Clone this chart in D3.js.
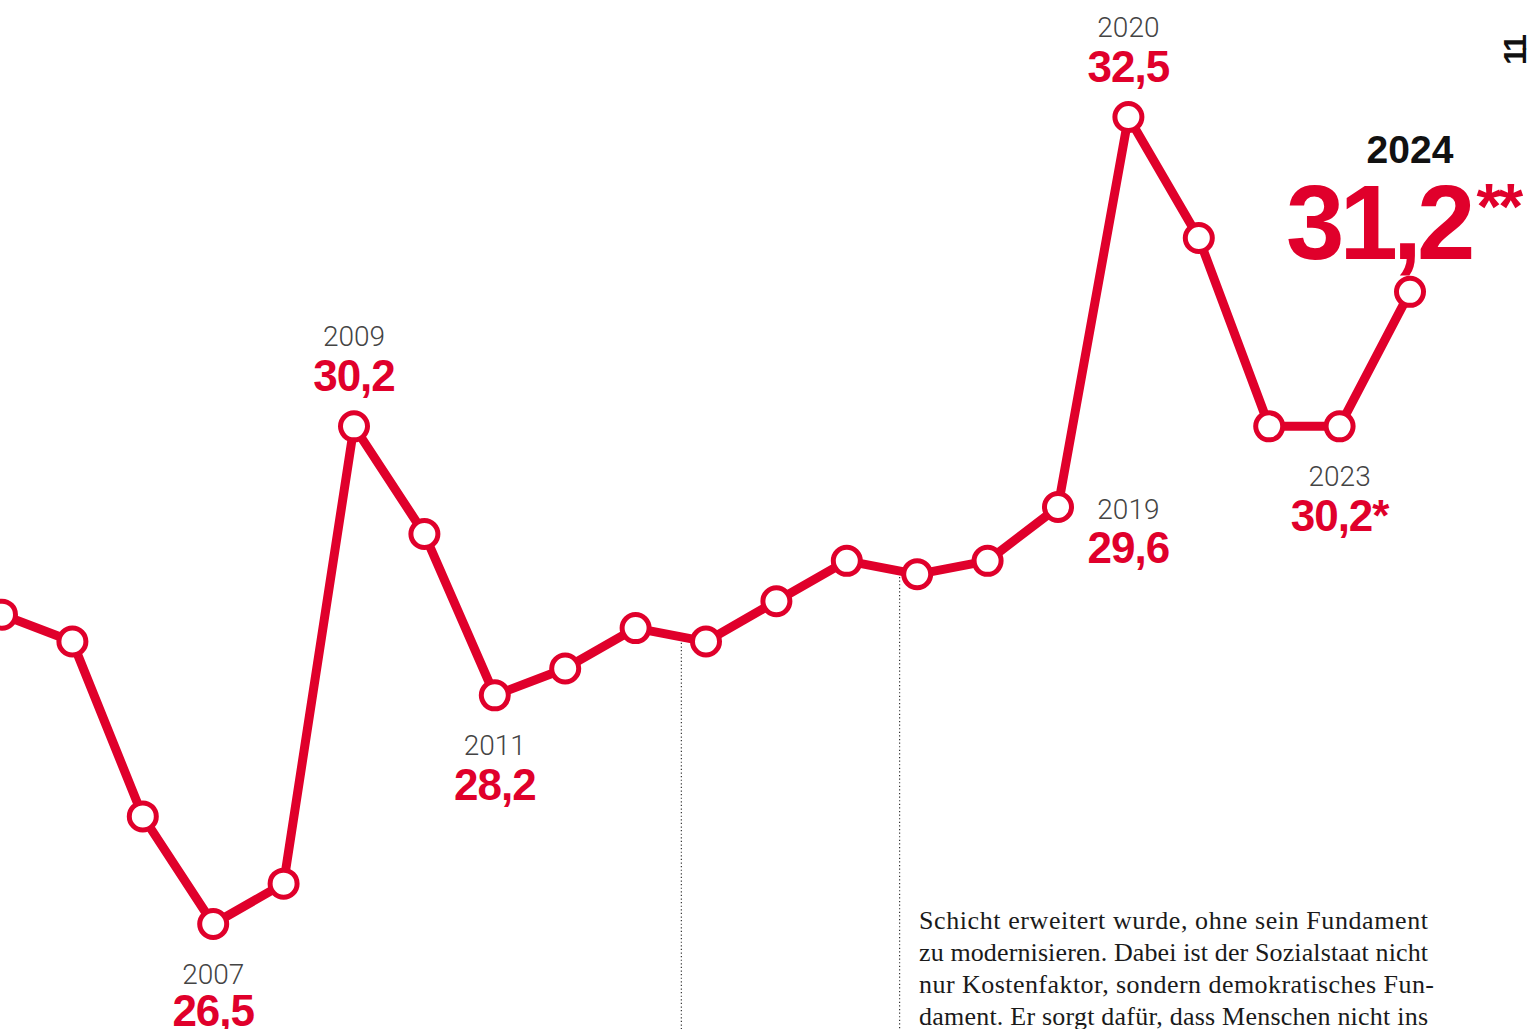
<!DOCTYPE html>
<html><head><meta charset="utf-8">
<script src="https://cdn.jsdelivr.net/npm/d3@7"></script>
<style>
html,body{margin:0;padding:0;background:#fff;overflow:hidden}
svg{display:block}
</style></head>
<body>
<svg id="chart" width="1534" height="1029"></svg>
<script>
// ---- data ----
const years  = [2004,2005,2006,2007,2008,2009,2010,2011,2012,2013,2014,2015,2016,2017,2018,2019,2020,2021,2022,2023,2024];
const values = [28.8,28.6,27.3,26.5,26.8,30.2,29.4,28.2,28.4,28.7,28.6,28.9,29.2,29.1,29.2,29.6,32.5,31.6,30.2,30.2,31.2];
// labelled points: year, placement, suffix
const labelYears  = [2007, 2009, 2011, 2019, 2020, 2023];
const labelPlace  = ["below","above","below","belowRight","above","below"];
const labelSuffix = ["","","","","","*"];
const highlightYear = 2024, highlightSuffix = "**";
const guideYears = [2013.65, 2016.75];
const bodyLines = [
  "Schicht erweitert wurde, ohne sein Fundament",
  "zu modernisieren. Dabei ist der Sozialstaat nicht",
  "nur Kostenfaktor, sondern demokratisches Fun-",
  "dament. Er sorgt dafür, dass Menschen nicht ins"
];
const pageNumber = "11";

const fmt = v => v.toFixed(1).replace(".", ",");
const RED = "#e0002b";
const svg = d3.select("#chart");
const W = 1534, H = 1029;

const x = d3.scaleLinear().domain([2004, 2024]).range([2, 1410]);
const y = d3.scaleLinear().domain([26.5, 32.5]).range([924, 117]);
const data = years.map((yr, i) => ({yr, v: values[i]}));
const valOf = yr => values[years.indexOf(yr)];

// guide dotted lines
const interp = t => {
  const i = Math.floor(t - 2004);
  const f = t - 2004 - i;
  return values[i] + (values[i+1] - values[i]) * f;
};
svg.selectAll("line.guide").data(guideYears).join("line")
  .attr("class","guide")
  .attr("x1", d => x(d)).attr("x2", d => x(d))
  .attr("y1", d => y(interp(d)) + 6).attr("y2", H)
  .attr("stroke", "#333").attr("stroke-width", 1.2)
  .attr("stroke-dasharray", "1.2,2.4");

// line
svg.append("path").datum(data)
  .attr("d", d3.line().x(d => x(d.yr)).y(d => y(d.v)))
  .attr("fill","none").attr("stroke",RED).attr("stroke-width",9)
  .attr("stroke-linejoin","round");

// points
svg.selectAll("circle.pt").data(data).join("circle")
  .attr("class","pt")
  .attr("cx", d => x(d.yr)).attr("cy", d => y(d.v)).attr("r", 13.5)
  .attr("fill","#fff").attr("stroke",RED).attr("stroke-width",5);

// labels
const yearFont = "Roboto, 'Liberation Sans', sans-serif";
const valFont = "'Liberation Sans', Arial, sans-serif";
labelYears.forEach((yr, i) => {
  const place = labelPlace[i];
  let cx = x(yr), py = y(valOf(yr)), yb, vb;
  if (place === "above") { yb = py - 80; vb = py - 35; }
  else if (place === "below") { yb = py + 60; vb = Math.min(py + 105, 1026); }
  else { cx = x(yr + 1); yb = py + 12; vb = py + 56; }
  svg.append("text").attr("x", cx).attr("y", yb)
    .attr("text-anchor","middle").attr("font-family",yearFont)
    .attr("font-weight",300).attr("font-size",28).attr("fill","#444")
    .text(yr);
  svg.append("text").attr("x", cx).attr("y", vb)
    .attr("text-anchor","middle").attr("font-family",valFont)
    .attr("font-weight",700).attr("font-size",44).attr("fill",RED)
    .attr("letter-spacing",-1)
    .text(fmt(valOf(yr)) + labelSuffix[i]);
});

// highlight 2024
{
  const cx = x(highlightYear);
  svg.append("text").attr("x", cx).attr("y", 163)
    .attr("text-anchor","middle").attr("font-family",valFont)
    .attr("font-weight",700).attr("font-size",39).attr("fill","#111")
    .text(highlightYear);
  const t = svg.append("text").attr("x", 1286).attr("y", 259)
    .attr("font-family",valFont).attr("font-weight",700)
    .attr("font-size",105).attr("fill",RED).attr("letter-spacing",-5);
  t.append("tspan").text(fmt(valOf(highlightYear)));
  t.append("tspan").attr("font-size",64).attr("dy",-30).attr("dx",6).attr("letter-spacing",-3).text(highlightSuffix);
}

// page number (rotated)
svg.append("text").attr("transform","translate(1526,51) rotate(-90)")
  .attr("text-anchor","middle").attr("font-family",valFont)
  .attr("font-weight",700).attr("font-size",32).attr("fill","#111")
  .attr("letter-spacing",-3)
  .text(pageNumber);

// body text
const widths = [509, 509, 515, 509];
svg.selectAll("text.body").data(bodyLines).join("text")
  .attr("class","body")
  .attr("x", 919).attr("y", (d,i) => 929 + i*32)
  .attr("font-family","'Liberation Serif', 'DejaVu Serif', serif")
  .attr("font-size",26).attr("fill","#1a1a1a")
  .attr("textLength",(d,i)=>widths[i]).attr("lengthAdjust","spacing")
  .text(d => d);
</script>
</body></html>
